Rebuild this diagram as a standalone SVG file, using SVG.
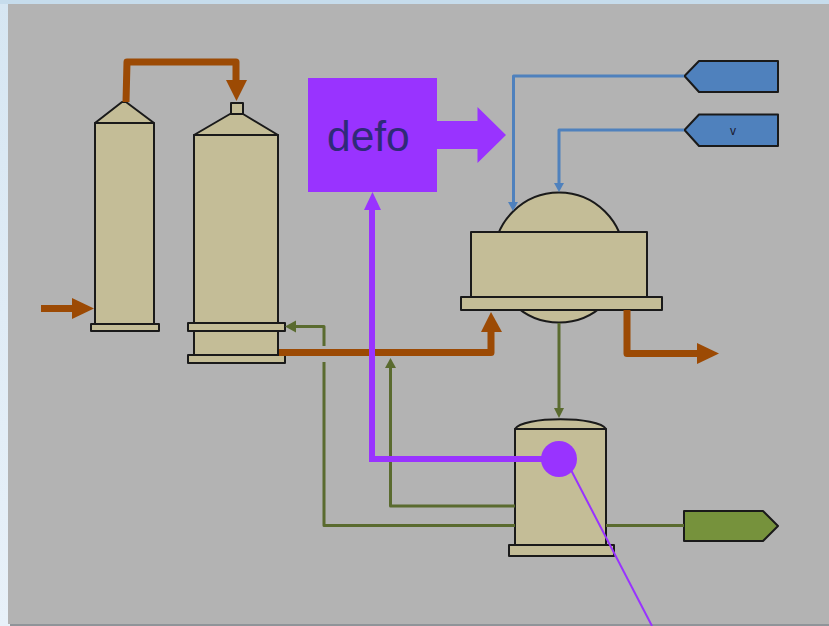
<svg xmlns="http://www.w3.org/2000/svg" width="829" height="626" viewBox="0 0 829 626">
<defs>
<linearGradient id="page" x1="0" y1="0" x2="0" y2="1"><stop offset="0" stop-color="#d6e6f2"/><stop offset="0.5" stop-color="#e0ecf6"/><stop offset="1" stop-color="#e8f1f9"/></linearGradient>
</defs>
<style>
.eq{fill:#c4bd97;stroke:#1a1a1a;stroke-width:2;stroke-linejoin:round}
.bl{fill:#4f81bd;stroke:#1a1a1a;stroke-width:2;stroke-linejoin:round}
.gn{fill:#76923c;stroke:#1a1a1a;stroke-width:2;stroke-linejoin:round}
.o{fill:none;stroke:#9c4a04;stroke-width:7;stroke-linejoin:round}
.oh{fill:#9c4a04}
.g{fill:none;stroke:#5a6b2f;stroke-width:3;stroke-linejoin:round}
.gh{fill:#5a6b2f}
.b{fill:none;stroke:#4f81bd;stroke-width:3;stroke-linejoin:round}
.bh{fill:#4f81bd}
.p{fill:none;stroke:#9933ff;stroke-linejoin:miter}
.ph{fill:#9933ff}
</style>
<rect id="page-bg" width="829" height="626" fill="url(#page)"/>
<rect id="page-top" width="829" height="4" fill="#c6dcec"/>
<rect id="page-shadow" x="10" y="624" width="819" height="2" fill="#8f9499"/>
<rect id="canvas" x="8" y="4" width="821" height="620" fill="#b3b3b3"/>

<g id="column-1">
<path class="eq" d="M95 123L122 102H126L154 123Z"/>
<rect class="eq" x="95" y="123" width="59" height="201"/>
<rect class="eq" x="91" y="324" width="68" height="7"/>
</g>
<g id="column-2">
<rect class="eq" x="231" y="103" width="12" height="11"/>
<path class="eq" d="M194 135L230 114H243L278 135Z"/>
<rect class="eq" x="194" y="135" width="84" height="220"/>
<rect class="eq" x="188" y="323" width="97" height="8"/>
<rect class="eq" x="188" y="355" width="97" height="8"/>
</g>
<g id="reactor">
<circle class="eq" cx="559" cy="257.500" r="65"/>
<rect class="eq" x="471" y="232" width="176" height="65"/>
<rect class="eq" x="461" y="297" width="201" height="13"/>
</g>
<g id="vessel">
<path class="eq" d="M515 429C522 416 599 416 606 429Z"/>
<rect class="eq" x="515" y="429" width="91" height="116"/>
<rect class="eq" x="509" y="545" width="105" height="11"/>
</g>
<g id="source-1"><path class="bl" d="M684.500 76L699 61H778V92H699Z"/></g>
<g id="source-2"><path class="bl" d="M684.500 130L699 114.500H778V146H699Z"/>
<text x="733" y="135" font-family="'Liberation Sans',Arial,sans-serif" font-size="12" text-anchor="middle" fill="#1a1a2e">v</text></g>
<g id="product"><path class="gn" d="M684 511H763L778 526L763 541H684Z"/></g>

<g id="connectors">
<path class="o" d="M126 102L127 62H236V82"/>
<path class="oh" d="M226 80H247L236.500 101Z"/>
<path class="o" d="M41 308.500H74" stroke-linejoin="miter"/>
<path class="oh" d="M72 298L94 308.500L72 319Z"/>
<path class="o" d="M279 352.500H491V330"/>
<path class="oh" d="M481 332L491 312L502 332Z"/>
<path class="o" d="M627 310V353.500H700"/>
<path class="oh" d="M697 343L719 353.500L697 364Z"/>

<path class="g" d="M515 525.500H324V362"/>
<path class="g" d="M324 346V326.500H295"/>
<path class="gh" d="M296 320.500V332.500L285 326.500Z"/>
<path class="g" d="M515 506H390.500V366"/>
<path class="gh" d="M385 368H396L390.500 358Z"/>
<path class="g" d="M559 323V410"/>
<path class="gh" d="M554 408H564L559 418Z"/>
<path class="g" d="M606 525.500H684"/>

<path class="b" d="M684 76H513.500V205"/>
<path class="bh" d="M508 202H518L513 211Z"/>
<path class="b" d="M684 130H559V185"/>
<path class="bh" d="M554 183H564L559 192Z"/>

<path class="p" stroke-width="6" d="M545 459H372V208"/>
<path class="ph" d="M364 210L372.500 192L381 210Z"/>
<path class="ph" d="M437 121H477.500V107L506 135L477.500 163V149H437Z"/>
<path class="p" stroke-width="2" d="M571 470L652 626"/>
</g>

<g id="defo-box">
<rect x="308" y="78" width="129" height="114" fill="#9933ff"/>
<text x="327" y="151" font-family="'Liberation Sans',Arial,sans-serif" font-size="42.500" fill="#2f2a78">defo</text>
</g>
<g id="marker-dot"><circle cx="559" cy="459" r="18" fill="#9933ff"/></g>
</svg>
